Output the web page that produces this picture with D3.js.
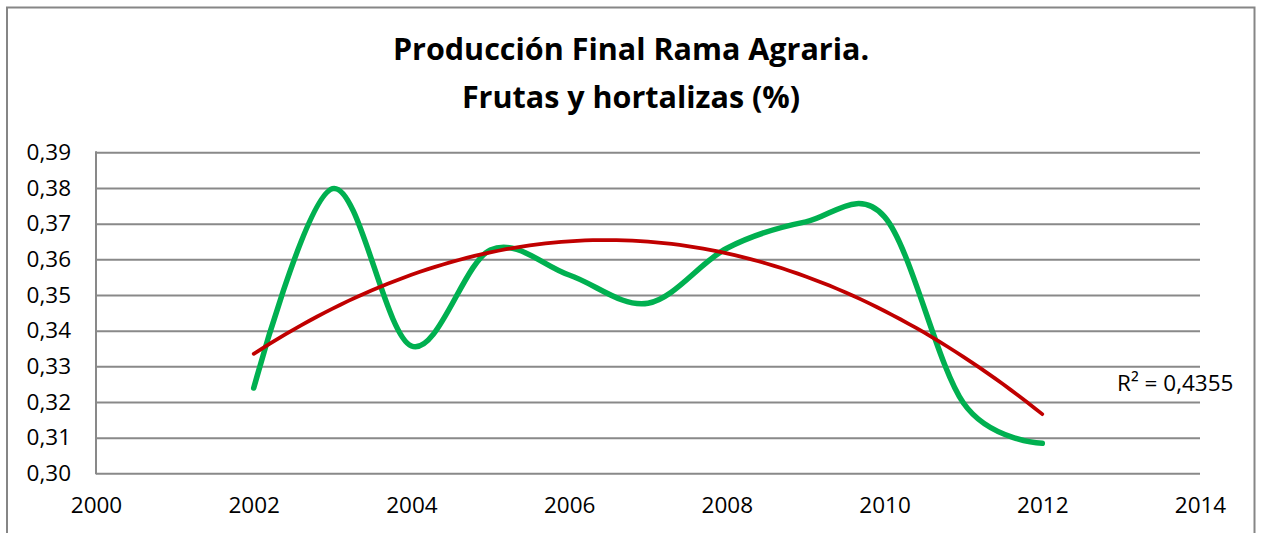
<!DOCTYPE html>
<html>
<head>
<meta charset="utf-8">
<script src="https://cdn.jsdelivr.net/npm/d3@7"></script>
<style>
  body { margin: 0; background: #fff; }
  svg { display: block; }
</style>
</head>
<body>
<div id="chart"></div>
<script>
/* data */
const titleLines = ["Producción Final Rama Agraria.", "Frutas y hortalizas (%)"];
const years = [2002, 2003, 2004, 2005, 2006, 2007, 2008, 2009, 2010, 2011, 2012];
const shares = [0.3239, 0.3798, 0.3357, 0.3626, 0.3556, 0.3477, 0.3631, 0.3705, 0.3719, 0.3197, 0.3084];
const xTicks = [2000, 2002, 2004, 2006, 2008, 2010, 2012, 2014];
const yTicks = [0.30, 0.31, 0.32, 0.33, 0.34, 0.35, 0.36, 0.37, 0.38, 0.39];
const r2Label = "R² = 0,4355";

const W = 1264, H = 533;
const margin = { top: 152.3, right: 64, bottom: 59.7, left: 96 };

const svg = d3.select("#chart").append("svg")
	.attr("width", W)
	.attr("height", H)
	.style("font-family", "'Open Sans', sans-serif");

/* outer chart frame (its bottom runs past the window) */
svg.append("rect")
	.attr("x", 7).attr("y", 7.5)
	.attr("width", 1247.5).attr("height", H + 20)
	.attr("fill", "#fff")
	.attr("stroke", "#868686")
	.attr("stroke-width", 2);

/* title */
svg.append("g")
	.attr("class", "title")
	.selectAll("text")
	.data(titleLines)
	.enter().append("text")
		.attr("x", 631)
		.attr("y", (d, i) => 60 + i * 47.5)
		.attr("text-anchor", "middle")
		.attr("font-size", "30.5px")
		.attr("font-weight", "bold")
		.attr("fill", "#000")
		.text((d) => d);

const x = d3.scaleLinear()
	.domain([2000, 2014])
	.range([margin.left, W - margin.right]);

const y = d3.scaleLinear()
	.domain([0.30, 0.39])
	.range([H - margin.bottom, margin.top]);

const comma = d3.formatLocale({ decimal: ",", thousands: ".", grouping: [3], currency: ["", "€"] });

/* horizontal gridlines + y labels */
const yAxis = svg.append("g")
	.attr("class", "y axis")
	.attr("transform", `translate(${margin.left},0)`)
	.call(d3.axisLeft(y)
		.tickValues(yTicks)
		.tickSize(-(W - margin.left - margin.right))
		.tickPadding(25)
		.tickFormat(comma.format(".2f")));
yAxis.select(".domain").remove();
yAxis.selectAll(".tick line")
	.attr("stroke", "#898989")
	.attr("stroke-width", 2);
yAxis.selectAll(".tick text")
	.attr("font-size", "22.5px")
	.attr("font-family", "'Open Sans', sans-serif")
	.attr("fill", "#000");

/* x labels */
const xAxis = svg.append("g")
	.attr("class", "x axis")
	.attr("transform", `translate(0,${H - margin.bottom})`)
	.call(d3.axisBottom(x)
		.tickValues(xTicks)
		.tickSize(0)
		.tickPadding(24)
		.tickFormat(d3.format("d")));
xAxis.select(".domain").remove();
xAxis.selectAll(".tick text")
	.attr("font-size", "22.5px")
	.attr("font-family", "'Open Sans', sans-serif")
	.attr("fill", "#000");

/* vertical axis line */
svg.append("line")
	.attr("x1", x(2000)).attr("x2", x(2000))
	.attr("y1", y(0.39) - 1).attr("y2", y(0.30) + 1)
	.attr("stroke", "#898989")
	.attr("stroke-width", 2);

/* polynomial (order 2) trendline fitted to the series */
function quadFit(xs, ys) {
	const x0 = d3.mean(xs);
	const t = xs.map((v) => v - x0);
	let s0 = 0, s1 = 0, s2 = 0, s3 = 0, s4 = 0, sy = 0, sty = 0, st2y = 0;
	t.forEach((ti, i) => {
		s0 += 1; s1 += ti; s2 += ti * ti; s3 += ti ** 3; s4 += ti ** 4;
		sy += ys[i]; sty += ti * ys[i]; st2y += ti * ti * ys[i];
	});
	// solve 3x3 normal equations with Cramer's rule
	const det = (m) => m[0][0] * (m[1][1] * m[2][2] - m[1][2] * m[2][1])
		- m[0][1] * (m[1][0] * m[2][2] - m[1][2] * m[2][0])
		+ m[0][2] * (m[1][0] * m[2][1] - m[1][1] * m[2][0]);
	const A = [[s0, s1, s2], [s1, s2, s3], [s2, s3, s4]];
	const B = [sy, sty, st2y];
	const D = det(A);
	const coef = [0, 1, 2].map((k) => det(A.map((row, r) => row.map((v, c) => (c === k ? B[r] : v)))) / D);
	return (xv) => { const tt = xv - x0; return coef[0] + coef[1] * tt + coef[2] * tt * tt; };
}
const trend = quadFit(years, shares);
const trendPts = d3.range(years[0], years[years.length - 1] + 0.001, 0.1).map((v) => [v, trend(v)]);

const line = d3.line()
	.x((d) => x(d[0]))
	.y((d) => y(d[1]));

svg.append("path")
	.datum(years.map((d, i) => [d, shares[i]]))
	.attr("class", "series")
	.attr("fill", "none")
	.attr("stroke", "#00b050")
	.attr("stroke-width", 5.5)
	.attr("stroke-linecap", "round")
	.attr("stroke-linejoin", "round")
	.attr("d", line.curve(d3.curveCardinal.tension(0)));

svg.append("path")
	.datum(trendPts)
	.attr("class", "trend")
	.attr("fill", "none")
	.attr("stroke", "#c00000")
	.attr("stroke-width", 3.75)
	.attr("stroke-linecap", "round")
	.attr("d", line.curve(d3.curveLinear));

svg.append("text")
	.attr("x", 1117)
	.attr("y", 391)
	.attr("font-size", "22.5px")
	.attr("fill", "#000")
	.text(r2Label);
</script>
</body>
</html>
